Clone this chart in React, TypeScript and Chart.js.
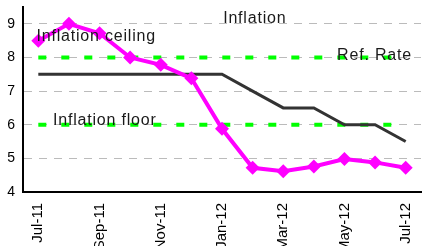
import React, { useEffect, useRef } from "react";
import { Chart, registerables } from "chart.js";

Chart.register(...registerables);

const months = ["Jul-11", "Aug-11", "Sep-11", "Oct-11", "Nov-11", "Dec-11", "Jan-12", "Feb-12", "Mar-12", "Apr-12", "May-12", "Jun-12", "Jul-12"];
const inflation = [8.5, 9.0, 8.72, 8.0, 7.78, 7.38, 5.88, 4.72, 4.62, 4.76, 4.98, 4.88, 4.72];
const refRate = [7.5, 7.5, 7.5, 7.5, 7.5, 7.5, 7.5, 7.0, 6.5, 6.5, 6.0, 6.0, 5.5];
const ceiling = [8, 8, 8, 8, 8, 8, 8, 8, 8, 8, 8, 8, 8];
const floor = [6, 6, 6, 6, 6, 6, 6, 6, 6, 6, 6, 6, 6];
const yTicks = [4, 5, 6, 7, 8, 9];

const annotations = [
  { text: "Inflation", x: 7.07, y: 9.15, align: "center" },
  { text: "Inflation ceiling", x: -0.06, y: 8.62, align: "left" },
  { text: "Ref. Rate", x: 9.76, y: 8.07, align: "left" },
  { text: "Inflation floor", x: 0.48, y: 6.12, align: "left" },
];

const FONT = "'Liberation Sans', Arial, sans-serif";

const textPlugin = {
  id: "textLabels",
  afterDatasetsDraw(chart: any) {
    const ctx = chart.ctx;
    const xs = chart.scales.x;
    const ys = chart.scales.y;
    ctx.save();
    ctx.font = `16px ${FONT}`;
    try {
      ctx.letterSpacing = "0.8px";
    } catch (e) {}
    ctx.fillStyle = "#1a1a1a";
    ctx.textBaseline = "middle";
    for (const a of annotations) {
      ctx.textAlign = a.align;
      ctx.fillText(a.text, xs.getPixelForValue(a.x), ys.getPixelForValue(a.y));
    }
    ctx.restore();
  },
};

export default function App() {
  const ref = useRef<HTMLCanvasElement>(null);
  useEffect(() => {
    document.body.style.margin = "0";
    const chart = new Chart(ref.current!, {
      type: "line",
      data: {
        labels: months,
        datasets: [
          {
            label: "Inflation",
            data: inflation,
            borderColor: "#ff00ff",
            backgroundColor: "#ff00ff",
            borderWidth: 4,
            pointStyle: "rectRot",
            pointRadius: 7,
            pointBorderWidth: 0,
            tension: 0,
            order: 1,
          },
          {
            label: "Ref. Rate",
            data: refRate,
            borderColor: "#333333",
            borderWidth: 3,
            pointRadius: 0,
            tension: 0,
            order: 2,
          },
          {
            label: "Inflation ceiling",
            data: ceiling,
            borderColor: "#00ff00",
            borderWidth: 4,
            borderDash: [8, 15],
            borderCapStyle: "butt",
            pointRadius: 0,
            order: 3,
          },
          {
            label: "Inflation floor",
            data: floor,
            borderColor: "#00ff00",
            borderWidth: 4,
            borderDash: [8, 15],
            borderCapStyle: "butt",
            pointRadius: 0,
            order: 3,
          },
        ],
      },
      options: {
        animation: false,
        responsive: false,
        devicePixelRatio: 1,
        layout: { padding: { top: 5, right: 0, left: 0, bottom: 0 } },
        plugins: { legend: { display: false }, tooltip: { enabled: false } },
        scales: {
          x: {
            offset: true,
            grid: { display: false, drawTicks: false },
            border: { color: "#000000", width: 2 },
            ticks: {
              autoSkip: false,
              minRotation: 90,
              maxRotation: 90,
              padding: 11,
              color: "#000000",
              font: { family: FONT, size: 15 },
              callback: (_v: any, i: number) => (i % 2 === 0 ? months[i] : ""),
            },
            afterFit: (s: any) => {
              s.height = 54;
              s.paddingLeft = 0;
              s.paddingRight = 0;
              s.paddingTop = 0;
              s.paddingBottom = 0;
            },
          },
          y: {
            min: 4,
            max: 9.5,
            afterBuildTicks: (s: any) => {
              s.ticks = yTicks.map((v) => ({ value: v }));
            },
            grid: {
              color: "#bbbbbb",
              lineWidth: 1,
              drawTicks: false,
            },
            border: { color: "#000000", width: 2, dash: [8, 7] },
            ticks: {
              padding: 8,
              color: "#000000",
              font: { family: FONT, size: 14 },
            },
            afterFit: (s: any) => {
              s.width = 23;
              s.paddingTop = 0;
              s.paddingBottom = 0;
              s.paddingLeft = 0;
              s.paddingRight = 0;
            },
          },
        },
      },
      plugins: [textPlugin],
    } as any);
    return () => chart.destroy();
  }, []);
  return (
    <div style={{ width: 428, height: 246 }}>
      <canvas ref={ref} width={428} height={246} />
    </div>
  );
}
